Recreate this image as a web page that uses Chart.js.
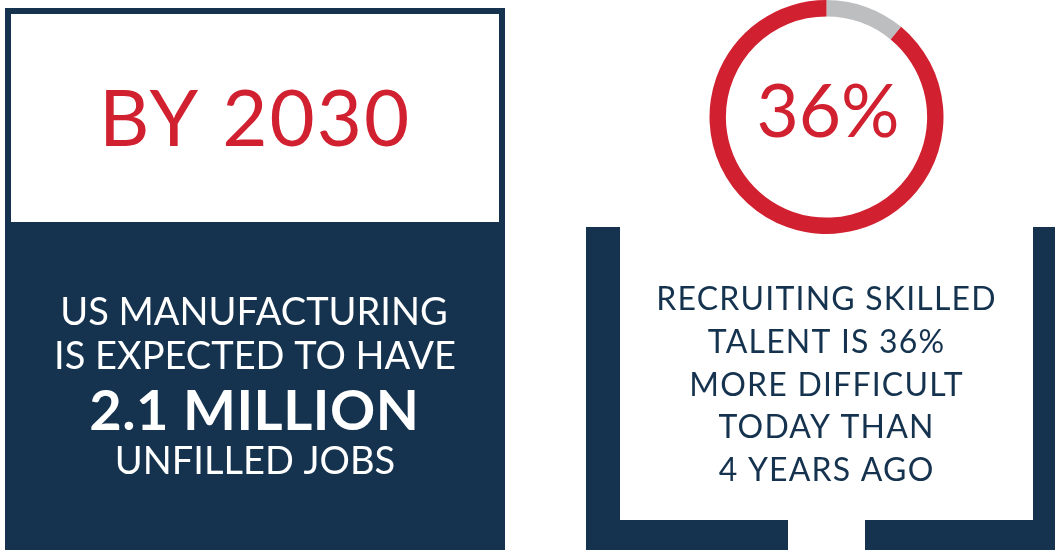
<!DOCTYPE html>
<html>
<head>
<meta charset="utf-8">
<script src="https://cdn.jsdelivr.net/npm/chart.js@4.4.1/dist/chart.umd.min.js"></script>
<style>
  html, body { margin: 0; padding: 0; background: #fff; overflow: hidden; }
  #wrap { width: 1055px; height: 550px; position: relative; }
</style>
</head>
<body>
<div id="wrap"><canvas id="info" width="1055" height="550"></canvas></div>
<script>
// ring data (gray slice starts at 12 o'clock)
const ringLabels = ['Other', 'More difficult'];
const ringValues = [11, 89];
const ringColors = ['#bcbec0', '#d1202f'];

// texts
const headline = 'BY 2030';
const centerLabel = '36%';
const leftLines = ['US MANUFACTURING', 'IS EXPECTED TO HAVE', '2.1 MILLION', 'UNFILLED JOBS'];
const rightLines = ['RECRUITING SKILLED', 'TALENT IS 36%', 'MORE DIFFICULT', 'TODAY THAN', '4 YEARS AGO'];

const NAVY = '#15334f';
const RED = '#d1202f';
const FONT = 'Lato, "Open Sans", sans-serif';

// centered text with letter spacing (trailing gap compensated)
function spacedText(ctx, text, x, y, ls) {
    ctx.letterSpacing = ls + 'px';
    ctx.fillText(text, x + ls / 2, y);
    ctx.letterSpacing = '0px';
}

// boxes behind the ring
const boxesPlugin = {
    id: 'boxes',
    beforeDraw(chart) {
        const ctx = chart.ctx;
        ctx.save();
        ctx.fillStyle = '#fff';
        ctx.fillRect(0, 0, chart.width, chart.height);
        // left box: navy frame + lower block
        ctx.fillStyle = NAVY;
        ctx.fillRect(5, 8, 500, 542);
        ctx.fillStyle = '#fff';
        ctx.fillRect(11, 14, 488, 208);
        // right bracket
        ctx.fillStyle = NAVY;
        ctx.fillRect(586, 227, 34, 323);
        ctx.fillRect(586, 520, 202, 30);
        ctx.fillRect(865, 520, 190, 30);
        ctx.fillRect(1033, 227, 22, 323);
        ctx.restore();
    }
};

// all text on top
const textPlugin = {
    id: 'texts',
    afterDraw(chart) {
        const ctx = chart.ctx;
        ctx.save();
        ctx.textAlign = 'center';
        ctx.textBaseline = 'alphabetic';

        ctx.fillStyle = RED;
        ctx.font = '400 78px ' + FONT;
        spacedText(ctx, headline, 254, 146, 2);

        ctx.font = '400 73px ' + FONT;
        ctx.fillText(centerLabel, 828, 137);

        ctx.fillStyle = '#fff';
        ctx.font = '400 38px ' + FONT;
        ctx.fillText(leftLines[0], 254, 325);
        ctx.fillText(leftLines[1], 255, 369);
        ctx.font = '700 56px ' + FONT;
        spacedText(ctx, leftLines[2], 254, 430, 0.5);
        ctx.font = '400 38px ' + FONT;
        ctx.fillText(leftLines[3], 255, 474);

        ctx.fillStyle = NAVY;
        ctx.font = '400 32px ' + FONT;
        const baselines = [310, 353, 396, 438, 481];
        rightLines.forEach((t, i) => spacedText(ctx, t, 826, baselines[i], 1.2));
        ctx.restore();
    }
};

new Chart(document.getElementById('info').getContext('2d'), {
    type: 'doughnut',
    data: {
        labels: ringLabels,
        datasets: [{ data: ringValues, backgroundColor: ringColors, borderWidth: 0 }]
    },
    options: {
        responsive: false,
        animation: false,
        cutout: '86%',
        layout: { padding: { left: 709, right: 111, top: 0, bottom: 316 } },
        plugins: { legend: { display: false }, tooltip: { enabled: false } }
    },
    plugins: [boxesPlugin, textPlugin]
});
</script>
</body>
</html>
